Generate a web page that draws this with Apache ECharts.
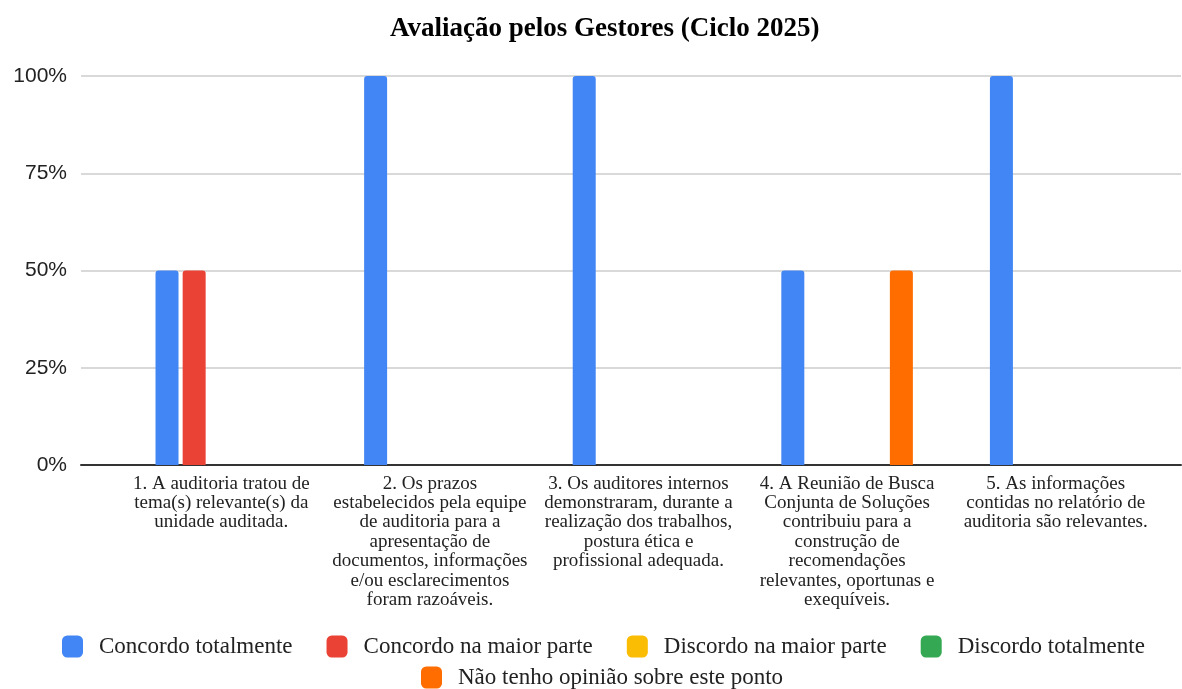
<!DOCTYPE html>
<html>

<head>
    <meta charset="UTF-8">
    <style type="text/css">
        html, body {
            margin: 0;
            padding: 0;
            background: #fff;
        }

        #chart {
            width: 1182px;
            height: 689px;
        }
    </style>
</head>

<body>
    <div id="chart"></div>
    <script src="https://cdn.jsdelivr.net/npm/echarts@6/dist/echarts.min.js"></script>
    <script type="text/javascript">
        'use strict';
        var titulo = 'Avaliação pelos Gestores (Ciclo 2025)';

        var categorias = [
            '1. A auditoria tratou de\ntema(s) relevante(s) da\nunidade auditada.',
            '2. Os prazos\nestabelecidos pela equipe\nde auditoria para a\napresentação de\ndocumentos, informações\ne/ou esclarecimentos\nforam razoáveis.',
            '3. Os auditores internos\ndemonstraram, durante a\nrealização dos trabalhos,\npostura ética e\nprofissional adequada.',
            '4. A Reunião de Busca\nConjunta de Soluções\ncontribuiu para a\nconstrução de\nrecomendações\nrelevantes, oportunas e\nexequíveis.',
            '5. As informações\ncontidas no relatório de\nauditoria são relevantes.'
        ];

        var yTicks = [0, 25, 50, 75, 100];

        var concordoTotalmente = [50, 100, 100, 50, 100];
        var concordoMaiorParte = [50, 0, 0, 0, 0];
        var discordoMaiorParte = [0, 0, 0, 0, 0];
        var discordoTotalmente = [0, 0, 0, 0, 0];
        var semOpiniao = [0, 0, 0, 50, 0];

        var nomes = ['Concordo totalmente', 'Concordo na maior parte', 'Discordo na maior parte',
            'Discordo totalmente', 'Não tenho opinião sobre este ponto'];
        var valores = [concordoTotalmente, concordoMaiorParte, discordoMaiorParte, discordoTotalmente, semOpiniao];
        var cores = ['#4285f4', '#ea4335', '#fbbc04', '#34a853', '#ff6d01'];

        var serif = "'Liberation Serif', 'Times New Roman', serif";
        var sans = "'Liberation Sans', Arial, sans-serif";

        var chart = echarts.init(document.getElementById('chart'));

        var legendBase = {
            orient: 'horizontal',
            icon: 'roundRect',
            itemWidth: 21,
            itemHeight: 22,
            itemGap: 34,
            textStyle: {
                fontFamily: serif,
                fontSize: 23,
                color: '#222',
                padding: [0, 0, 0, 11]
            }
        };

        chart.setOption({
            animation: false,
            color: cores,
            title: {
                text: titulo,
                left: 385,
                top: 11,
                textStyle: {
                    fontFamily: serif,
                    fontWeight: 'bold',
                    fontSize: 27,
                    color: '#000'
                }
            },
            legend: [
                Object.assign({}, legendBase, { left: 57, top: 630, data: nomes.slice(0, 4) }),
                Object.assign({}, legendBase, { left: 416, top: 661, data: nomes.slice(4) })
            ],
            grid: [
                // frame for the y axis, gridlines and baseline
                { left: 81, right: 1, top: 76, bottom: 224 },
                // narrower plot area where the bars sit
                { left: 117, right: 22, top: 76, bottom: 224 }
            ],
            xAxis: [
                {
                    type: 'category',
                    gridIndex: 0,
                    data: categorias,
                    axisLine: { lineStyle: { color: '#333', width: 2 } },
                    axisTick: { show: false },
                    axisLabel: { show: false }
                },
                {
                    type: 'category',
                    gridIndex: 1,
                    data: categorias,
                    axisLine: { show: false },
                    axisTick: { show: false },
                    axisLabel: {
                        interval: 0,
                        margin: 9,
                        fontFamily: serif,
                        fontSize: 19,
                        lineHeight: 19.4,
                        color: '#222',
                        align: 'center'
                    }
                }
            ],
            yAxis: [
                {
                    type: 'value',
                    gridIndex: 0,
                    min: yTicks[0],
                    max: yTicks[yTicks.length - 1],
                    interval: 25,
                    axisLine: { show: false },
                    axisTick: { show: false },
                    axisLabel: {
                        formatter: '{value}%',
                        margin: 14,
                        fontFamily: sans,
                        fontSize: 21,
                        color: '#222'
                    },
                    splitLine: { lineStyle: { color: '#cccccc', width: 1.5 } }
                },
                {
                    type: 'value',
                    gridIndex: 1,
                    min: yTicks[0],
                    max: yTicks[yTicks.length - 1],
                    interval: 25,
                    show: false,
                    splitLine: { show: false }
                }
            ],
            series: nomes.map(function (nome, i) {
                return {
                    name: nome,
                    type: 'bar',
                    xAxisIndex: 1,
                    yAxisIndex: 1,
                    data: valores[i],
                    barWidth: 23,
                    barGap: '18%',
                    itemStyle: { color: cores[i], borderRadius: [3, 3, 0, 0] }
                };
            })
        });
    </script>
</body>

</html>
